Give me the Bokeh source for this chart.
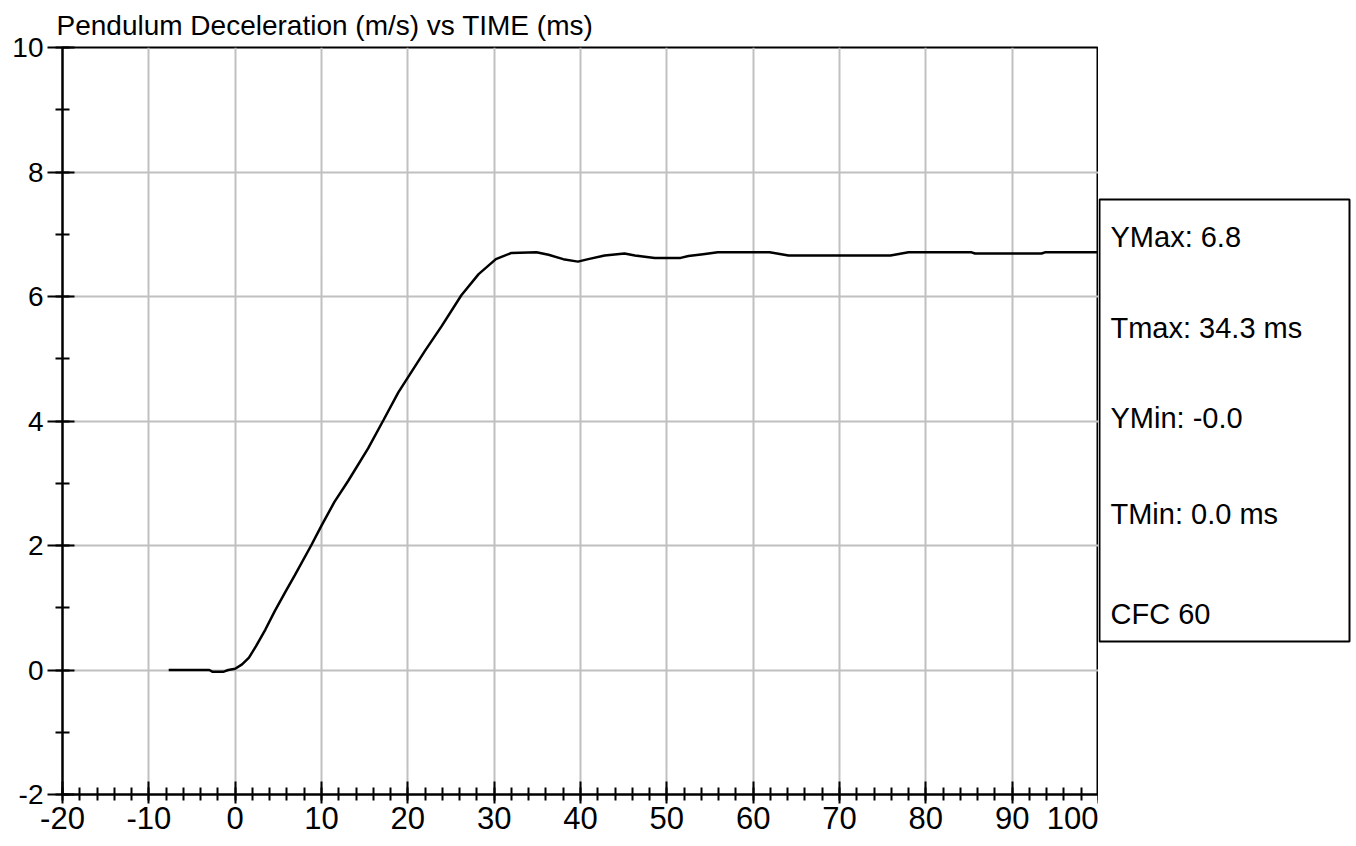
from bokeh.plotting import figure
from bokeh.layouts import row
from bokeh.models import Range1d, SingleIntervalTicker, PrintfTickFormatter
from bokeh.core.properties import value
from bokeh.embed import file_html
from bokeh.resources import INLINE

# ---- data ----
time_ms = [-7.7, -3.0, -2.6, -1.4, -0.8, 0.0, 0.8, 1.6, 2.4, 3.5, 4.6, 5.8, 6.9,
           8.8, 10.0, 11.5, 13.1, 15.4, 17.2, 18.9, 20.2, 22.0, 23.9, 26.2, 28.2,
           30.2, 32.0, 34.9, 36.3, 38.0, 39.7, 40.9, 42.8, 45.1, 46.3, 48.6, 51.6,
           52.5, 54.2, 55.9, 61.9, 64.1, 75.9, 78.0, 85.3, 85.7, 93.4, 93.8, 100.0]
decel = [0.0, 0.0, -0.03, -0.03, 0.0, 0.02, 0.09, 0.2, 0.38, 0.65, 0.95, 1.25, 1.52,
         2.0, 2.32, 2.7, 3.04, 3.56, 4.02, 4.46, 4.74, 5.13, 5.52, 6.02, 6.36,
         6.6, 6.7, 6.71, 6.67, 6.6, 6.56, 6.6, 6.66, 6.69, 6.66, 6.62, 6.62,
         6.65, 6.68, 6.71, 6.71, 6.66, 6.66, 6.71, 6.71, 6.69, 6.69, 6.71, 6.71]

title_text = "Pendulum Deceleration (m/s) vs TIME (ms)"
stats_labels = ["YMax: 6.8", "Tmax: 34.3 ms", "YMin: -0.0", "TMin: 0.0 ms", "CFC 60"]

FONT = "Liberation Sans"

# ---- main plot ----
p = figure(width=1098, height=846, x_range=Range1d(-20, 100), y_range=Range1d(-2, 10),
           output_backend="svg", toolbar_location=None,
           min_border_left=62, min_border_right=0, min_border_top=47, min_border_bottom=52,
           background_fill_color="white", border_fill_color="white")

p.title.text = title_text
p.title.text_font = FONT
p.title.text_font_size = "28px"
p.title.text_font_style = "normal"
p.title.text_color = "black"
p.title.align = "left"
p.title.offset = -6
p.title.standoff = 14

p.outline_line_color = "black"
p.outline_line_width = 2
p.outline_line_alpha = 1.0

p.xaxis.ticker = SingleIntervalTicker(interval=10, num_minor_ticks=5)
p.yaxis.ticker = SingleIntervalTicker(interval=2, num_minor_ticks=2)
p.xaxis.formatter = PrintfTickFormatter(format="%d")
p.yaxis.formatter = PrintfTickFormatter(format="%d")

for ax in (p.xaxis, p.yaxis):
    ax.axis_line_color = "black"
    ax.axis_line_width = 2
    ax.major_tick_line_color = "black"
    ax.major_tick_line_width = 2
    ax.minor_tick_line_color = "black"
    ax.minor_tick_line_width = 2
    ax.major_label_text_font = FONT
    ax.major_label_text_color = "black"

p.xaxis.major_label_text_font_size = "31px"
p.yaxis.major_label_text_font_size = "28px"

p.xaxis.major_tick_in = 13
p.xaxis.major_tick_out = 9
p.xaxis.minor_tick_in = 7
p.xaxis.minor_tick_out = 6
p.xaxis.major_label_standoff = 3

p.yaxis.major_tick_in = 12
p.yaxis.major_tick_out = 15
p.yaxis.minor_tick_in = 7
p.yaxis.minor_tick_out = 7
p.yaxis.major_label_standoff = 4

p.grid.grid_line_color = "#c0c0c0"
p.grid.grid_line_width = 2

p.line(time_ms, decel, line_color="black", line_width=2.5)

# ---- statistics box (same frame height as main plot; pixel-unit ranges) ----
q = figure(width=258, height=846, x_range=Range1d(-1, 257), y_range=Range1d(747, 0),
           output_backend="svg", toolbar_location=None,
           x_axis_location=None, y_axis_location=None,
           min_border_left=0, min_border_right=0, min_border_top=47, min_border_bottom=52,
           background_fill_color="white", border_fill_color="white")
q.grid.visible = False
q.outline_line_color = None

q.quad(left=[0], right=[250], top=[152], bottom=[594], fill_color="white",
       line_color="black", line_width=2)

stat_x = [11] * len(stats_labels)
stat_y = [189, 280, 370, 466, 566]
q.text(x=stat_x, y=stat_y, text=stats_labels, text_font=value(FONT),
       text_font_size="29px", text_baseline="alphabetic", text_align="left",
       text_color="black")

layout = row(p, q, spacing=0)

open("out.html", "w").write(file_html(layout, INLINE))
